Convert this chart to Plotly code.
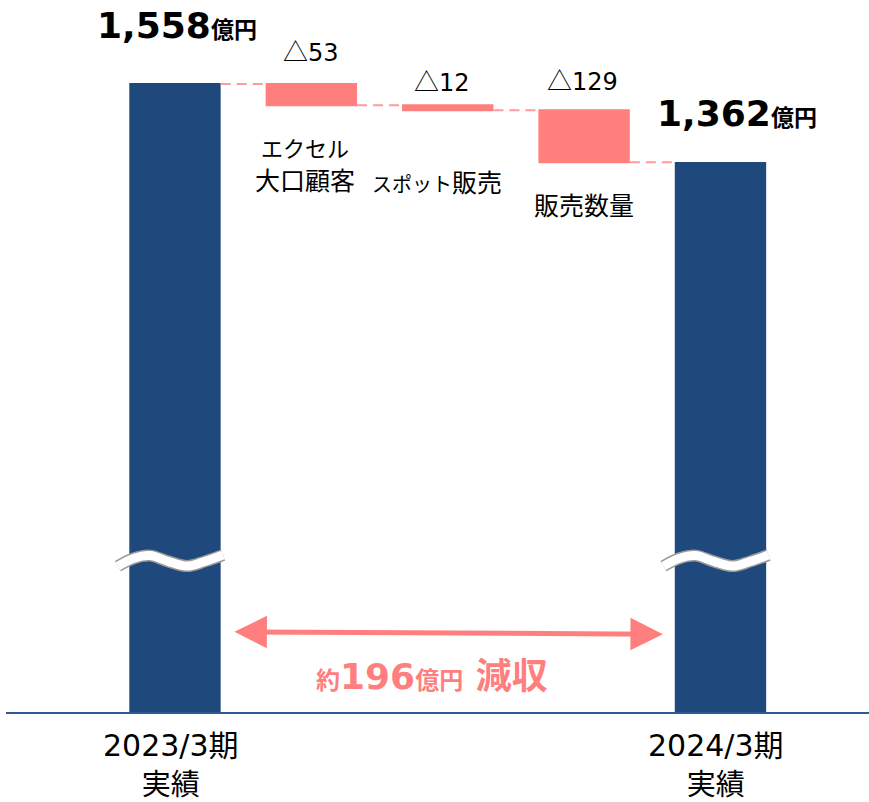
import plotly.graph_objects as go

# ---- data ----
categories = ["2023/3期<br>実績", "エクセル<br>大口顧客", "スポット販売", "販売数量", "2024/3期<br>実績"]
values = [1558, -53, -12, -129, 1362]
measures = ["absolute", "relative", "relative", "relative", "absolute"]
delta_labels = ["53", "12", "129"]
total_labels = ["1,558", "1,362"]
diff_label = "196"

NAVY = "#1F497D"
SALMON = "#FF7F7F"
CONN = "#FF9B9B"
JP = "Noto Sans CJK JP"
NUM = "DejaVu Sans, Noto Sans CJK JP"

x = list(range(len(values)))

fig = go.Figure()
fig.add_trace(go.Waterfall(
    x=x, y=values, measure=measures, width=0.67,
    totals=dict(marker=dict(color=NAVY)),
    decreasing=dict(marker=dict(color=SALMON)),
    increasing=dict(marker=dict(color=SALMON)),
    connector=dict(mode="between", line=dict(color=CONN, width=2, dash="10px,6px")),
    textposition="none", hoverinfo="skip", showlegend=False,
))

# cumulative levels
levels = []
run = 0
for v, m in zip(values, measures):
    start = run
    run = v if m == "absolute" else run + v
    levels.append((start, run))

# break marks on total bars
break_level = 362
amp = 26
for i in (0, 4):
    bx = [i - 0.418, i - 0.30, i - 0.183, i - 0.05, i + 0.088, i + 0.22, i + 0.352]
    by = [break_level, break_level + amp * 0.75, break_level + amp, break_level + amp * 0.45,
          break_level, break_level + amp * 0.45, break_level + amp * 1.05]
    fig.add_trace(go.Scatter(x=bx, y=by, mode="lines", line=dict(color="#9A9A9A", width=12, shape="spline"),
                             hoverinfo="skip", showlegend=False))
    fig.add_trace(go.Scatter(x=bx, y=by, mode="lines", line=dict(color="white", width=9, shape="spline"),
                             hoverinfo="skip", showlegend=False))


def jp(s, size):
    return f"<span style='font-family:{JP};font-size:{size}px'>{s}</span>"


ann = []
# totals
ann.append(dict(x=0, y=values[0], yshift=59, xshift=2,
                text=f"<b>{total_labels[0]}{jp('億円', 23)}</b>",
                font=dict(family=NUM, size=36, color="black")))
ann.append(dict(x=4, y=values[4], yshift=50, xshift=17,
                text=f"<b>{total_labels[1]}{jp('億円', 23)}</b>",
                font=dict(family=NUM, size=36, color="black")))
# deltas
dshift = [(0, 34), (-6, 25), (-2, 31)]
for k, i in enumerate((1, 2, 3)):
    ann.append(dict(x=i, y=levels[i][0], xshift=dshift[k][0], yshift=dshift[k][1],
                    text=jp("△", 25) + delta_labels[k], font=dict(family=NUM, size=24, color="black")))
# category labels under deltas (kana slightly smaller, as in the original typeface)
line1, line2 = categories[1].split("<br>")
ann.append(dict(x=1, y=levels[1][1], xshift=-6, yshift=-42, text=jp(line1, 22),
                font=dict(family=JP, size=22, color="black")))
ann.append(dict(x=1, y=levels[1][1], xshift=-6, yshift=-74, text=jp(line2, 25),
                font=dict(family=JP, size=25, color="black")))
ann.append(dict(x=2, y=levels[2][1], xshift=-11, yshift=-71,
                text=jp(categories[2][:4], 20) + jp(categories[2][4:], 25),
                font=dict(family=JP, size=24, color="black")))
ann.append(dict(x=3, y=levels[3][1], xshift=0, yshift=-42, text=jp(categories[3], 25),
                font=dict(family=JP, size=25, color="black")))
# bottom labels
for i, xs in ((0, -4), (4, -4)):
    top, bottom = categories[i].split("<br>")
    ann.append(dict(x=i, y=0, yref="y", yanchor="top", yshift=-14, xshift=xs,
                    text=top + "<br>" + jp(bottom, 29),
                    font=dict(family=NUM, size=30, color="black")))

# arrow
arrow_y = 196
ann.append(dict(x=3.578, y=arrow_y - 3, ax=0.425, ay=arrow_y + 3, axref="x", ayref="y",
                xref="x", yref="y", text="", showarrow=True, arrowside="end+start",
                arrowhead=2, arrowsize=1.3, arrowwidth=5, arrowcolor=SALMON))
ann.append(dict(x=2, y=arrow_y, yshift=-40, xshift=-16,
                text=f"<b>{jp('約', 24)}{diff_label}{jp('億円', 24)} {jp('減収', 36)}</b>",
                font=dict(family=NUM, size=36, color=SALMON)))

for a in ann:
    a.setdefault("xref", "x")
    a.setdefault("yref", "y")
    a.setdefault("showarrow", False)
fig.update_layout(annotations=ann)

fig.update_layout(
    width=869, height=802,
    margin=dict(l=6, r=0, t=0, b=90),
    paper_bgcolor="white", plot_bgcolor="white",
    xaxis=dict(range=[-1.239, 5.089], showgrid=False, zeroline=False, showticklabels=False,
               showline=True, linecolor="#2E5B93", linewidth=2, ticks="", fixedrange=True),
    yaxis=dict(range=[0, 1766.4], showgrid=False, zeroline=False, showticklabels=False,
               showline=False, ticks="", fixedrange=True),
    showlegend=False,
)

fig.write_html("out.html", config={"displayModeBar": False},
               post_script="document.body.style.margin='0';")
